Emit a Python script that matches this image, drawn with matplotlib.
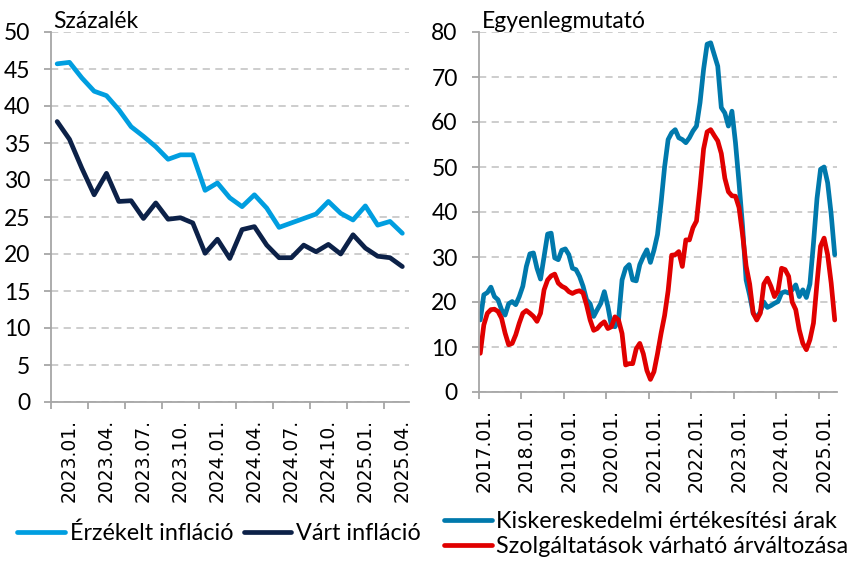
import matplotlib
matplotlib.use("Agg")
import matplotlib.pyplot as plt
import numpy as np
import pandas as pd

# ---------------- data ----------------
left_categories = [p.strftime("%Y.%m.") for p in pd.period_range("2023-01", "2025-05", freq="M")]
perceived_inflation = [45.7, 45.9, 43.8, 42.0, 41.4, 39.5, 37.2, 35.9, 34.5, 32.8, 33.4, 33.4,
                       28.6, 29.6, 27.6, 26.4, 28.0, 26.2, 23.6, 24.2, 24.8, 25.4, 27.1, 25.5,
                       24.6, 26.5, 23.9, 24.4, 22.8]
expected_inflation = [37.9, 35.5, 31.6, 28.0, 30.9, 27.1, 27.2, 24.8, 26.9, 24.7, 24.9, 24.2,
                      20.1, 22.0, 19.4, 23.3, 23.7, 21.2, 19.5, 19.5, 21.2, 20.3, 21.3, 20.0,
                      22.6, 20.8, 19.7, 19.5, 18.3]
left_ticklabels = ["2023.01.", "2023.04.", "2023.07.", "2023.10.", "2024.01.",
                   "2024.04.", "2024.07.", "2024.10.", "2025.01.", "2025.04."]

right_categories = [p.strftime("%Y.%m.") for p in pd.period_range("2017-01", "2025-05", freq="M")]
retail_prices = [16.0, 21.6, 22.1, 23.3, 21.2, 20.5, 18.3, 17.1, 19.6, 20.1,
                 19.4, 21.2, 23.5, 27.9, 30.7, 30.9, 27.5, 25.1, 30.1, 35.1,
                 35.3, 29.8, 29.4, 31.5, 31.8, 30.5, 27.5, 27.2, 25.7, 23.5,
                 20.5, 19.6, 16.8, 18.3, 19.7, 22.3, 19.0, 14.7, 14.5, 16.0,
                 24.9, 27.5, 28.3, 24.9, 24.7, 28.3, 30.1, 31.6, 28.8, 31.5,
                 35.0, 42.0, 50.0, 56.1, 57.6, 58.3, 56.5, 56.1, 55.4, 56.5,
                 58.0, 59.1, 64.3, 71.7, 77.3, 77.6, 75.0, 72.4, 63.2, 62.0,
                 59.1, 62.4, 55.4, 46.5, 36.8, 24.9, 21.5, 17.5, 16.5, 17.8,
                 20.0, 18.8, 19.2, 19.7, 20.1, 22.0, 22.3, 22.0, 22.7, 23.8,
                 21.2, 22.7, 21.0, 24.0, 33.0, 43.0, 49.5, 50.0, 46.5, 39.5, 30.5]
services_prices = [8.6, 14.9, 17.5, 18.3, 18.4, 17.9, 16.4, 13.1, 10.5, 10.8,
                   12.7, 15.3, 17.5, 18.1, 17.5, 16.8, 15.7, 17.5, 22.7, 24.9,
                   25.8, 26.2, 24.2, 23.5, 23.1, 22.3, 21.9, 22.3, 22.5, 22.0,
                   19.3, 16.0, 13.7, 14.1, 15.0, 15.6, 14.1, 14.5, 16.7, 16.0,
                   13.0, 6.0, 6.3, 6.3, 9.6, 10.8, 8.5, 4.8, 2.8, 4.5,
                   8.5, 13.0, 17.0, 22.5, 30.4, 30.5, 31.2, 27.9, 33.8, 33.8,
                   36.5, 38.0, 45.5, 54.0, 57.8, 58.3, 57.0, 55.8, 53.0, 47.5,
                   44.5, 43.6, 43.5, 41.0, 35.0, 28.0, 24.0, 17.5, 16.0, 17.5,
                   24.0, 25.3, 23.5, 21.2, 22.5, 27.5, 27.2, 25.7, 20.0, 18.3,
                   13.8, 10.8, 9.4, 11.6, 15.3, 24.2, 32.4, 34.2, 30.5, 24.2, 16.0]
right_ticklabels = ["2017.01.", "2018.01.", "2019.01.", "2020.01.", "2021.01.",
                    "2022.01.", "2023.01.", "2024.01.", "2025.01."]

# ---------------- style ----------------
plt.rcParams['font.family'] = ['Lato', 'DejaVu Sans']
C_LIGHT = "#009EE0"
C_NAVY = "#0C2148"
C_BLUE = "#0079AC"
C_RED = "#E00000"
AX_COL = "#A6A6A6"
GRID_COL = "#C9C9C9"
FS = 16.5
LEG_FS = 16.8
TICK_FS = 13.5

W, H = 851, 562
fig = plt.figure(figsize=(W / 100, H / 100), dpi=100)

axL = fig.add_axes([51 / W, 1 - 402 / H, (408.5 - 51) / W, 370 / H])
axR = fig.add_axes([478.5 / W, 1 - 392 / H, (836.5 - 478.5) / W, 360 / H])


def style(ax, ymax, ystep, n, group, label_offset, labels):
    for s in ("top", "right"):
        ax.spines[s].set_visible(False)
    for s in ("left", "bottom"):
        ax.spines[s].set_color(AX_COL)
        ax.spines[s].set_linewidth(1.3)
    ax.set_ylim(0, ymax)
    ax.set_xlim(-0.5, n - 0.5)
    ax.set_yticks(np.arange(0, ymax + 0.1, ystep))
    ax.yaxis.grid(True, color=GRID_COL, linestyle=(0, (4, 3)), linewidth=1.3)
    ax.set_axisbelow(True)
    ax.tick_params(axis="y", length=5, width=1.3, color=AX_COL, labelsize=FS, pad=10)
    bounds = np.arange(-0.5, n - 0.5, group)
    ax.set_xticks(bounds)
    ax.set_xticklabels([""] * len(bounds))
    ax.tick_params(axis="x", which="major", length=5, width=1.3, color=AX_COL, direction="out")
    pos = [label_offset + group * k for k in range(len(labels))]
    ax.set_xticks(pos, minor=True)
    ax.set_xticklabels(labels, minor=True, rotation=90, fontsize=TICK_FS,
                       family="DejaVu Sans", va="top", ha="center")
    ax.tick_params(axis="x", which="minor", length=0, pad=12)


style(axL, 50, 5, len(left_categories), 3, 1, left_ticklabels)
style(axR, 80, 10, len(right_categories), 12, 1, right_ticklabels)

xl = np.arange(len(left_categories))
axL.plot(xl, perceived_inflation, color=C_LIGHT, lw=3.4, label="Érzékelt infláció",
         solid_joinstyle="round", solid_capstyle="round")
axL.plot(xl, expected_inflation, color=C_NAVY, lw=3.4, label="Várt infláció",
         solid_joinstyle="round", solid_capstyle="round")

xr = np.arange(len(right_categories))
axR.plot(xr, retail_prices, color=C_BLUE, lw=3.4, label="Kiskereskedelmi értékesítési árak",
         solid_joinstyle="round", solid_capstyle="round")
axR.plot(xr, services_prices, color=C_RED, lw=3.4, label="Szolgáltatások várható árváltozása",
         solid_joinstyle="round", solid_capstyle="round")

fig.text(53 / W, 1 - 28 / H, "Százalék", fontsize=FS, va="baseline", ha="left")
fig.text(482 / W, 1 - 28 / H, "Egyenlegmutató", fontsize=FS, va="baseline", ha="left")

axL.legend(loc="center left", bbox_to_anchor=(17 / W, 1 - 533 / H), bbox_transform=fig.transFigure,
           ncol=2, frameon=False, borderpad=0, borderaxespad=0, handlelength=2.05,
           handletextpad=0.2, columnspacing=0.45, fontsize=LEG_FS)
axR.legend(loc="center left", bbox_to_anchor=(444 / W, 1 - 534 / H), bbox_transform=fig.transFigure,
           ncol=1, frameon=False, borderpad=0, borderaxespad=0, handlelength=2.05,
           handletextpad=0.2, labelspacing=0.15, fontsize=LEG_FS)

fig.savefig("out.png", dpi=100)
